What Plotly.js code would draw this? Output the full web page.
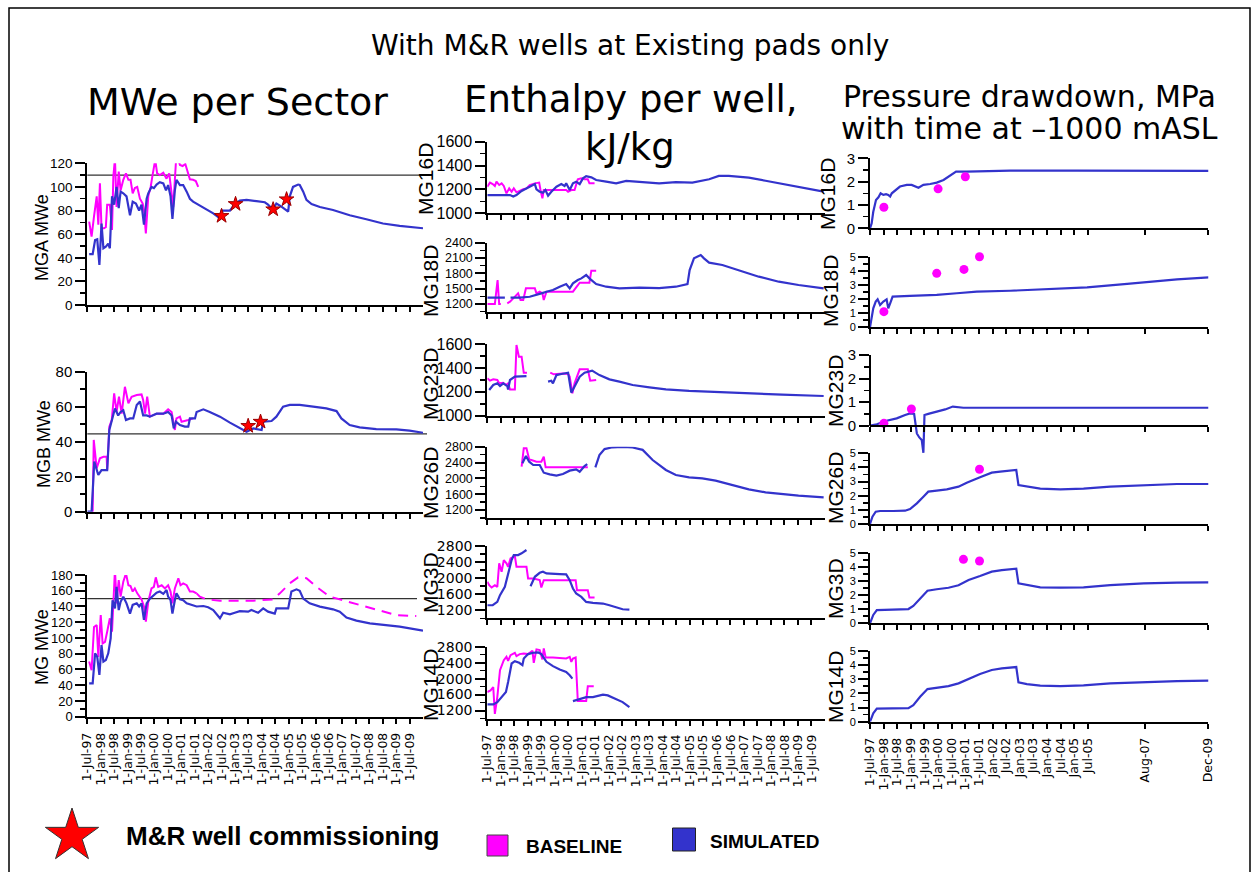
<!DOCTYPE html>
<html><head><meta charset="utf-8">
<script src="https://cdn.plot.ly/plotly-3.0.1.min.js"></script>
<style>html,body{margin:0;padding:0;background:#fff}#chart{width:1257px;height:872px}</style>
</head><body><div id="chart"></div>
<script>
// ---------- tick labels ----------
const halfYearTicks = [1997.5,1998,1998.5,1999,1999.5,2000,2000.5,2001,2001.5,2002,2002.5,2003,2003.5,2004,2004.5,2005,2005.5,2006,2006.5,2007,2007.5,2008,2008.5,2009,2009.5];
const halfYearLabels = ['1-Jul-97','1-Jan-98','1-Jul-98','1-Jan-99','1-Jul-99','1-Jan-00','1-Jul-00','1-Jan-01','1-Jul-01','1-Jan-02','1-Jul-02','1-Jan-03','1-Jul-03','1-Jan-04','1-Jul-04','1-Jan-05','1-Jul-05','1-Jan-06','1-Jul-06','1-Jan-07','1-Jul-07','1-Jan-08','1-Jul-08','1-Jan-09','1-Jul-09'];
const pressureTicks = [1997.5,1998,1998.5,1999,1999.5,2000,2000.5,2001,2001.5,2002,2002.5,2003,2003.5,2004,2004.5,2005,2005.5,2007.58,2009.92];
const pressureLabels = ['1-Jul-97','1-Jan-98','1-Jul-98','1-Jan-99','1-Jul-99','1-Jan-00','1-Jul-00','1-Jan-01','1-Jul-01','Jan-02','Jul-02','Jan-03','Jul-03','Jan-04','Jul-04','Jan-05','Jul-05','Aug-07','Dec-09'];

// ---------- MWe per sector ----------
const mgaSimYear = [1997.57,1997.70,1997.79,1997.87,1997.95,1998.03,1998.10,1998.19,1998.28,1998.34,1998.42,1998.50,1998.59,1998.67,1998.74,1998.84,1998.96,1999.09,1999.19,1999.31,1999.43,1999.52,1999.61,1999.71,1999.77,1999.89,1999.98,2000.08,2000.20,2000.33,2000.43,2000.51,2000.60,2000.67,2000.76,2000.82,2000.95,2001.07,2001.20,2001.32,2001.44,2001.63,2001.82,2002.00,2002.19,2002.44,2002.50,2002.81,2002.99,2003.18,2003.43,2003.80,2004.11,2004.23,2004.36,2004.48,2004.54,2004.73,2004.92,2004.98,2005.04,2005.16,2005.35,2005.41,2005.54,2005.66,2005.85,2006.16,2006.65,2007.27,2007.89,2008.51,2009.13,2010.0];
const mgaSimMWe = [43,43,55,55.6,34,69,48,49.4,52,48,92,85,100,82,96,94.6,92,76,87.5,86,80,85,68,90,94.6,100,99,102,104,103,97,101.6,92,73,97,106,101.6,101.6,96,90,87.5,85,83,80,77.6,73.4,80,80,85,88.4,89,88,87,85,82,83.6,86,83.3,80.5,79,92,100,102,101.6,96,89,85.5,83,80.5,76,72.6,69,67,65];
const mgaBaseYear = [1997.57,1997.66,1997.75,1997.85,1997.91,1997.97,1998.03,1998.12,1998.19,1998.24,1998.34,1998.42,1998.47,1998.53,1998.59,1998.67,1998.74,1998.84,1998.94,1999.03,1999.11,1999.19,1999.27,1999.36,1999.46,1999.56,1999.61,1999.68,1999.77,1999.86,1999.93,2000.03,2000.10,2000.20,2000.33,2000.45,2000.55,2000.64,2000.70,2000.80,2000.89,2000.95,2001.05,2001.15,2001.26,2001.32,2001.44,2001.54,2001.63];
const mgaBaseMWe = [70.6,58,75,92,68,103,65,65,66,85,85,63.5,108.7,124,83,113,97,106,111.5,106,106,94.6,99,100,90,86,80.5,60.7,92,100,110,123,111.5,110,112,107,111.5,93,83,121,123,118.6,117.7,119.4,111.5,106.4,106,105,100];
const mgaStarYear = [2002.50,2003.02,2004.42,2004.92];
const mgaStarMWe = [75.4,85.5,81,89.5];
const mgaTarget = 110;

const mgbSimYear = [1997.50,1997.66,1997.76,1997.91,1998.03,1998.16,1998.24,1998.32,1998.41,1998.53,1998.65,1998.74,1998.84,1998.94,1999.09,1999.21,1999.34,1999.46,1999.58,1999.71,1999.83,2000.08,2000.33,2000.51,2000.64,2000.72,2000.80,2000.95,2001.13,2001.26,2001.32,2001.51,2001.57,2001.82,2002.06,2002.44,2002.81,2003.18,2003.43,2003.68,2003.99,2004.05,2004.36,2004.54,2004.79,2005.04,2005.41,2005.91,2006.40,2006.78,2006.96,2007.27,2007.64,2008.26,2009.01,2009.50,2010.00];
const mgbSimMWe = [0,0,28.6,21,23.8,23.8,23.8,46.7,51.4,59,55,57,58,52.4,53.3,53.3,61,62.9,55,55,54.3,56,56,57,55,47.6,51.4,49.5,48.6,48.6,53.3,53.3,57,58.5,57,54.3,50.9,47.6,45.7,47.6,46.7,51.4,51.8,54.3,60,61,61,60,59,57.5,53.3,49.5,48.2,47.2,47,46.3,45.1];
const mgbBaseYear = [1997.70,1997.74,1997.85,1997.97,1998.10,1998.22,1998.24,1998.32,1998.41,1998.50,1998.59,1998.68,1998.78,1998.90,1999.03,1999.15,1999.34,1999.52,1999.58,1999.65,1999.73,1999.83,2000.08,2000.33,2000.51,2000.64,2000.76,2000.82,2000.95,2001.01,2001.26,2001.44];
const mgbBaseMWe = [0,41,24.8,30.5,31.4,31.4,23.8,48.6,52.4,67.6,57,65.7,56,71.4,62,65.7,66.7,67,63.8,56,65.7,54.3,56,56,58.5,57,46.7,53.3,54.3,51.4,52.4,53.3];
const mgbStarYear = [2003.49,2003.95];
const mgbStarMWe = [49,51.4];
const mgbTarget = 44.5;

const mgSimYear = [1997.57,1997.70,1997.79,1997.87,1997.95,1998.03,1998.10,1998.19,1998.28,1998.37,1998.44,1998.53,1998.59,1998.67,1998.74,1998.84,1998.96,1999.09,1999.19,1999.34,1999.43,1999.52,1999.61,1999.71,1999.83,1999.96,2000.08,2000.20,2000.33,2000.45,2000.51,2000.60,2000.67,2000.76,2000.82,2000.95,2001.07,2001.20,2001.38,2001.57,2001.82,2002.00,2002.19,2002.44,2002.56,2002.81,2002.99,2003.18,2003.49,2003.61,2003.86,2004.05,2004.23,2004.48,2004.54,2004.98,2005.10,2005.29,2005.41,2005.54,2005.78,2006.16,2006.65,2006.90,2007.15,2007.52,2008.02,2008.51,2009.13,2010.00];
const mgSimMWe = [42.4,42.4,80.5,76,53,91,70,72,80.5,99.5,148,137.6,165,135.5,146,152.5,144,131,142,144,140,144,123,144,150,154.6,157.6,159,156,161,152.5,148,131,148,156.7,149,148,144,142,140,140.6,139,135.5,125,132,130,132,134,133.4,135.5,132,137.6,133.4,131,137.6,137.6,159,161.8,160,150,144,139.8,136.4,133.4,126,122,118.6,116.5,114.4,109.3];
const mgBaseYear = [1997.57,1997.66,1997.75,1997.85,1997.91,1998.00,1998.07,1998.16,1998.24,1998.34,1998.42,1998.47,1998.53,1998.59,1998.67,1998.74,1998.84,1998.94,1999.03,1999.11,1999.19,1999.27,1999.36,1999.52,1999.61,1999.68,1999.77,1999.89,1999.98,2000.05,2000.14,2000.27,2000.39,2000.51,2000.60,2000.67,2000.76,2000.89,2000.97,2001.07,2001.20,2001.32,2001.44,2001.57];
const mgBaseMWe = [70,59,114,116.5,76,129,93,95,108,125,108,148,187,144,173.6,152.5,171.5,182,167,166,159,163,156.7,149,140,120.7,146,163,165,177,165,167,163,167,159,144,163,175.8,167,169.4,167,159,159,156.7];
const mgForecastYear = [2001.57,2001.69,2001.94,2002.44,2002.93,2003.68,2004.42,2004.67,2005.04,2005.35,2005.66,2006.03,2006.53,2006.90,2007.40,2007.89,2008.39,2009.01,2009.50,2009.75];
const mgForecastMWe = [156.7,152.5,149,147.4,147.4,147.4,149,156.7,169.4,177,176,165,152.5,149,144,139.8,135.5,129,128,128];
const mgTarget = 150;

// ---------- Enthalpy per well (kJ/kg) ----------
const h16SimYear = [1997.50,1998.34,1998.46,1998.58,1998.77,1998.95,1999.13,1999.26,1999.32,1999.44,1999.56,1999.65,1999.75,1999.87,2000.06,2000.24,2000.36,2000.42,2000.55,2000.67,2000.79,2000.92,2001.04,2001.16,2001.35,2001.53,2001.90,2002.27,2002.64,2003.13,2003.86,2004.48,2005.09,2005.71,2006.07,2006.44,2007.18,2007.80,2008.78,2009.95];
const h16Sim = [1153,1153,1140,1153,1187,1209,1229,1245,1201,1181,1173,1195,1148,1181,1223,1245,1229,1251,1195,1251,1265,1245,1293,1312,1301,1279,1265,1251,1271,1265,1251,1262,1257,1285,1313,1313,1299,1273,1229,1181];
const h16BaseYear = [1997.50,1997.60,1997.70,1997.78,1997.84,1997.94,1998.03,1998.11,1998.21,1998.31,1998.40,1998.48,1998.58,1998.70,1998.83,1998.95,1999.07,1999.26,1999.42,1999.47,1999.54,1999.59,1999.75,1999.93,2000.18,2000.42,2000.49,2000.61,2000.73,2000.79,2000.85,2000.98,2001.10,2001.22,2001.28,2001.47];
const h16Base = [1223,1257,1245,1229,1265,1237,1251,1229,1167,1209,1181,1209,1176,1190,1201,1209,1237,1251,1257,1195,1126,1195,1195,1195,1195,1195,1181,1195,1195,1237,1285,1293,1285,1285,1251,1251];

const h18SimYear = [1997.50,1998.15,null,1998.36,1998.70,1999.07,1999.32,1999.50,1999.69,1999.93,2000.18,2000.42,2000.55,2000.67,2000.85,2000.98,2001.16,2001.28,2001.53,2001.90,2002.39,2003.13,2003.86,2004.48,2004.91,2004.99,2005.15,2005.40,2005.52,2005.71,2006.20,2006.81,2007.55,2008.29,2009.02,2009.95];
const h18Sim = [1324,1324,null,1324,1324,1343,1376,1409,1441,1474,1539,1591,1507,1604,1670,1702,1767,1702,1591,1539,1507,1520,1513,1539,1591,1865,2094,2159,2094,2009,1963,1865,1735,1637,1572,1507];
const h18BaseYear = [1997.50,1997.78,1997.88,1997.94,1998.00,null,1998.24,1998.34,1998.46,1998.64,1998.73,1998.83,1998.93,1999.26,1999.32,1999.44,1999.54,1999.59,1999.69,1999.93,2000.42,2000.67,2000.92,2001.28,2001.35,2001.53];
const h18Base = [1200,1200,1670,1200,1200,null,1213,1246,1311,1409,1278,1278,1507,1507,1409,1441,1409,1278,1441,1441,1441,1441,1617,1617,1852,1852];

const h23SimYear = [1997.57,1997.72,1997.87,1997.97,1998.09,1998.24,1998.27,1998.34,1998.52,1998.70,1998.95,null,1999.75,1999.87,1999.93,2000.06,2000.24,2000.49,2000.61,2000.73,2000.92,2001.10,2001.22,2001.38,2001.65,2002.02,2002.39,2002.88,2003.50,2004.11,2004.97,2005.95,2007.18,2008.41,2009.95];
const h23Sim = [1215,1257,1271,1248,1271,1248,1220,1299,1327,1327,1332,null,1285,1293,1271,1340,1349,1360,1193,1243,1327,1360,1368,1377,1340,1304,1285,1257,1237,1220,1207,1198,1184,1176,1165];
const h23BaseYear = [1997.50,1997.60,1997.72,1997.87,1997.94,1998.09,1998.19,1998.27,1998.34,1998.52,1998.58,1998.67,1998.77,1998.85,1998.97,null,1999.83,1999.96,2000.30,2000.49,2000.55,2000.65,2000.73,2000.92,2001.22,2001.31,2001.53];
const h23Base = [1313,1293,1304,1299,1271,1276,1257,1271,1220,1220,1592,1494,1494,1360,1360,null,1360,1346,1354,1349,1327,1187,1271,1388,1388,1293,1299];

const h26SimYear = [1998.80,1998.93,1999.05,1999.20,1999.44,1999.59,1999.81,2000.06,2000.30,2000.55,2000.79,2000.92,2001.10,2001.20,null,2001.50,2001.65,2001.84,2002.14,2002.51,2002.88,2003.25,2003.62,2004.11,2004.48,2004.97,2005.46,2005.95,2006.57,2007.18,2007.80,2008.41,2009.02,2009.95];
const h26Sim = [2379,2564,2421,2337,2337,2143,2101,2067,2109,2194,2227,2168,2312,2362,null,2278,2589,2740,2785,2795,2780,2720,2463,2211,2084,2025,2000,1941,1832,1722,1646,1596,1562,1520];
const h26BaseYear = [1998.77,1998.85,1998.95,1999.05,1999.13,1999.32,1999.50,1999.59,1999.66,1999.75,2000.42,2001.22];
const h26Base = [2295,2758,2758,2480,2463,2421,2421,2547,2278,2278,2278,2278];

const h3SimYear = [1997.50,1997.70,1997.87,1997.97,1998.15,1998.27,1998.40,1998.48,1998.64,1998.77,1998.95,null,1999.10,1999.26,1999.44,1999.56,1999.69,1999.93,2000.18,2000.42,2000.55,2000.67,2000.79,2000.98,2001.16,2001.41,2001.78,2002.02,2002.27,2002.51,2002.76];
const h3Sim = [1325,1325,1408,1575,1783,2117,2450,2575,2575,2617,2700,null,1800,2033,2133,2158,2117,2117,2100,2092,1950,1742,1617,1533,1408,1383,1367,1325,1267,1225,1217];
const h3BaseYear = [1997.50,1997.57,1997.66,1997.78,1997.87,1997.94,1998.03,1998.11,1998.21,1998.27,1998.36,1998.46,1998.52,1998.58,1998.95,1999.01,1999.20,1999.44,1999.50,1999.59,2000.42,2000.77,2000.82,2001.22,2001.28,2001.47];
const h3Base = [1908,1825,1767,1825,1783,2367,2158,2450,2367,2283,2492,2517,2550,2283,2283,1992,1992,1950,1767,1950,1950,1950,1700,1700,1517,1517];

const h14SimYear = [1997.50,1997.72,1997.87,1998.03,1998.19,1998.27,1998.40,1998.52,1998.68,1998.80,1998.85,1999.01,1999.20,1999.38,1999.50,1999.69,1999.93,2000.18,2000.42,2000.55,2000.65,null,2000.67,2000.92,2001.16,2001.41,2001.65,2001.78,2001.96,2002.27,2002.51,2002.76];
const h14Sim = [1352,1352,1411,1537,1663,1916,2379,2438,2396,2337,2505,2615,2648,2657,2615,2421,2312,2227,2168,2084,2000,null,1436,1495,1537,1537,1579,1596,1579,1495,1411,1284];
const h14BaseYear = [1997.50,1997.62,1997.72,1997.78,1997.87,1997.97,1998.11,1998.21,1998.27,1998.36,1998.52,1998.58,1998.70,1998.85,1999.01,1999.17,1999.22,1999.32,1999.44,1999.54,1999.59,1999.66,1999.93,2000.42,2000.55,2000.61,2000.67,2000.77,2000.85,2001.16,2001.22,2001.44];
const h14Base = [1663,1705,1789,1116,1537,2211,2463,2547,2446,2589,2648,2564,2615,2632,2615,2699,2396,2733,2716,2480,2758,2530,2530,2505,2547,2421,2505,2530,1436,1436,1806,1806];

// ---------- Pressure drawdown (MPa) ----------
const p16SimYear = [1997.50,1997.56,1997.62,1997.72,1997.81,1997.89,1997.99,1998.09,1998.17,1998.24,1998.30,1998.46,1998.60,1998.85,1999.03,1999.28,1999.46,1999.71,1999.95,2000.20,2000.38,2000.50,2000.66,2001.05,2001.79,2002.65,2005.10,2007.55,2009.94];
const p16Sim = [0,0.21,0.71,1.21,1.33,1.5,1.43,1.46,1.43,1.36,1.5,1.67,1.79,1.86,1.86,1.74,1.86,1.9,1.96,2.07,2.21,2.31,2.43,2.43,2.46,2.47,2.47,2.47,2.46];
const p16ObsYear = [1998.01,2000.00,2001.00];
const p16Obs = [0.9,1.69,2.21];

const p18SimYear = [1997.50,1997.56,1997.62,1997.71,1997.78,1997.87,1997.99,1998.11,1998.17,1998.24,1998.33,1998.97,1999.95,2000.69,2001.42,2002.65,2003.87,2005.47,2006.94,2008.77,2009.94];
const p18Sim = [0,0.75,1.34,1.82,1.98,1.58,1.82,1.98,1.34,1.7,2.17,2.22,2.29,2.41,2.52,2.59,2.69,2.83,3.07,3.4,3.54];
const p18ObsYear = [1998.01,1999.95,2000.95,2001.52];
const p18Obs = [1.11,3.82,4.1,5.0];

const p23SimYear = [1997.50,1997.75,1998.11,1998.48,1998.79,1998.97,1999.12,1999.17,1999.22,1999.31,1999.40,1999.46,1999.50,1999.64,1999.95,2000.26,2000.54,2000.93,2002.65,2009.94];
const p23Sim = [0,0.06,0.21,0.31,0.45,0.52,0.5,-0.04,-0.33,-0.5,-0.61,-1.15,0.45,0.5,0.59,0.69,0.81,0.76,0.76,0.76];
const p23ObsYear = [1998.01,1999.02];
const p23Obs = [0.1,0.71];

const p26SimYear = [1997.50,1997.59,1997.71,1997.87,1998.36,1998.79,1998.97,1999.22,1999.46,1999.64,1999.95,2000.32,2000.75,2001.05,2001.54,2001.97,2002.28,2002.87,2002.95,2003.26,2003.75,2004.49,2005.34,2006.32,2007.55,2008.77,2009.94];
const p26Sim = [0,0.52,0.87,0.92,0.92,0.94,1.06,1.46,1.93,2.29,2.36,2.45,2.64,2.92,3.3,3.63,3.7,3.82,2.76,2.64,2.5,2.45,2.5,2.64,2.76,2.83,2.83];
const p26ObsYear = [2001.52];
const p26Obs = [3.87];

const p3SimYear = [1997.50,1997.62,1997.75,1998.36,1998.91,1999.09,1999.34,1999.61,1999.95,2000.38,2000.75,2001.12,2001.54,2001.97,2002.34,2002.87,2002.95,2003.26,2003.75,2004.49,2005.34,2006.32,2007.55,2008.77,2009.94];
const p3Sim = [0,0.59,0.94,0.99,1.01,1.23,1.77,2.31,2.41,2.52,2.69,3.07,3.35,3.66,3.77,3.87,2.83,2.71,2.55,2.52,2.55,2.71,2.83,2.88,2.9];
const p3ObsYear = [2000.93,2001.52];
const p3Obs = [4.53,4.41];

const p14SimYear = [1997.50,1997.62,1997.75,1998.36,1998.91,1999.09,1999.34,1999.61,1999.95,2000.38,2000.75,2001.12,2001.54,2001.97,2002.34,2002.87,2002.95,2003.26,2003.75,2004.49,2005.34,2006.32,2007.55,2008.77,2009.94];
const p14Sim = [0,0.59,0.92,0.96,0.96,1.17,1.76,2.3,2.37,2.51,2.7,3.0,3.36,3.64,3.76,3.85,2.77,2.65,2.54,2.51,2.56,2.7,2.79,2.86,2.89];

// ---------- drawing ----------
const W = 1257, H = 872;
const fx = p => p / W, fy = p => 1 - p / H;
const BLUE = '#3333CC', MAG = '#FF00FF';
const ARIAL = 'Liberation Sans, Arial, sans-serif';
const DV = 'DejaVu Sans, sans-serif';

const sim = (x, y) => ({type:'scatter', mode:'lines', x, y, line:{color:BLUE, width:2.2}, connectgaps:false, hoverinfo:'skip'});
const base = (x, y, dash) => ({type:'scatter', mode:'lines', x, y, line:{color:MAG, width:2, dash: dash || 'solid'}, connectgaps:false, hoverinfo:'skip'});
const stars = (x, y) => ({type:'scatter', mode:'markers', x, y, cliponaxis:false, marker:{symbol:'star', size:11, color:'#FF0000', line:{color:'#990000', width:1}}, hoverinfo:'skip'});
const dots = (x, y) => ({type:'scatter', mode:'markers', x, y, cliponaxis:false, marker:{symbol:'circle', size:9, color:MAG}, hoverinfo:'skip'});

const cols = {
  L:{x0:87.3, x1:423, range:[1997.5,2010.0], tv:halfYearTicks, tt:halfYearLabels},
  M:{x0:487.3, x1:825, range:[1997.5,2010.0], tv:halfYearTicks, tt:halfYearLabels},
  R:{x0:870, x1:1208.3, range:[1997.5,2009.92], tv:pressureTicks, tt:pressureLabels}
};

const t03 = [0,1,2,3], m03 = [0.5,1.5,2.5];
const t05 = [0,1,2,3,4,5], m05 = [0.5,1.5,2.5,3.5,4.5];
const tH = [1200,1600,2000,2400,2800], mH = [1000,1400,1800,2200,2600];

const panels = [
  {col:'L', top:163.3, bot:305, yr:[0,120], ytv:[0,20,40,60,80,100,120], ymv:[10,30,50,70,90,110], tf:{family:ARIAL,size:13.5}, title:'MGA MWe', tx:41.5, ty:237.5, ts:18, hline:mgaTarget, hEnd:430,
   traces:[base(mgaBaseYear,mgaBaseMWe), sim(mgaSimYear,mgaSimMWe), stars(mgaStarYear,mgaStarMWe)]},
  {col:'L', top:371.7, bot:511.7, yr:[0,80], ytv:[0,20,40,60,80], ymv:[10,30,50,70], tf:{family:ARIAL,size:15}, title:'MGB MWe', tx:44, ty:444, ts:18, hline:mgbTarget, hEnd:427,
   traces:[base(mgbBaseYear,mgbBaseMWe), sim(mgbSimYear,mgbSimMWe), stars(mgbStarYear,mgbStarMWe)]},
  {col:'L', top:575, bot:716.7, yr:[0,180], ytv:[0,20,40,60,80,100,120,140,160,180], ymv:[10,30,50,70,90,110,130,150,170], tf:{family:ARIAL,size:13}, title:'MG MWe', tx:42, ty:647, ts:18, hline:mgTarget, hEnd:417, labels:true,
   traces:[base(mgBaseYear,mgBaseMWe), base(mgForecastYear,mgForecastMWe,'10px,7px'), sim(mgSimYear,mgSimMWe)]},

  {col:'M', top:141.7, bot:213.3, yr:[1000,1600], ytv:[1000,1200,1400,1600], ymv:[1100,1300,1500], tf:{family:ARIAL,size:16}, title:'MG16D', tx:425, ty:179, ts:21,
   traces:[base(h16BaseYear,h16Base), sim(h16SimYear,h16Sim)]},
  {col:'M', top:242.7, bot:311.7, yr:[1050,2400], ytv:[1200,1500,1800,2100,2400], ymv:[1050,1350,1650,1950,2250], tf:{family:ARIAL,size:12.5}, title:'MG18D', tx:430, ty:281, ts:21,
   traces:[base(h18BaseYear,h18Base), sim(h18SimYear,h18Sim)]},
  {col:'M', top:344, bot:415.7, yr:[1000,1600], ytv:[1000,1200,1400,1600], ymv:[1100,1300,1500], tf:{family:ARIAL,size:16}, title:'MG23D', tx:430, ty:384, ts:21,
   traces:[base(h23BaseYear,h23Base), sim(h23SimYear,h23Sim)]},
  {col:'M', top:446.7, bot:517.9, yr:[1000,2800], ytv:tH, ymv:mH, tf:{family:ARIAL,size:12.5}, title:'MG26D', tx:430, ty:483, ts:21,
   traces:[base(h26BaseYear,h26Base), sim(h26SimYear,h26Sim)]},
  {col:'M', top:546, bot:618.3, yr:[1000,2800], ytv:tH, ymv:mH, tf:{family:DV,size:14}, title:'MG3D', tx:430, ty:583, ts:21,
   traces:[base(h3BaseYear,h3Base), sim(h3SimYear,h3Sim)]},
  {col:'M', top:646.7, bot:718.5, yr:[1000,2800], ytv:tH, ymv:mH, tf:{family:DV,size:14}, title:'MG14D', tx:430, ty:685, ts:21, labels:true,
   traces:[base(h14BaseYear,h14Base), sim(h14SimYear,h14Sim)]},

  {col:'R', top:158.3, bot:228.3, yr:[0,3], ytv:t03, ymv:m03, tf:{family:ARIAL,size:15}, title:'MG16D', tx:828, ty:194, ts:21,
   traces:[sim(p16SimYear,p16Sim), dots(p16ObsYear,p16Obs)]},
  {col:'R', top:256.7, bot:327.3, yr:[0,5], ytv:t05, ymv:m05, tf:{family:ARIAL,size:11}, title:'MG18D', tx:830, ty:291, ts:21,
   traces:[sim(p18SimYear,p18Sim), dots(p18ObsYear,p18Obs)]},
  {col:'R', top:355, bot:456.3, yr:[-1.3,3], ytv:t03, ymv:m03, tf:{family:ARIAL,size:15}, title:'MG23D', tx:835, ty:391, ts:21, xpos:425.7, yline:[0,3],
   traces:[sim(p23SimYear,p23Sim), dots(p23ObsYear,p23Obs)]},
  {col:'R', top:453.3, bot:524, yr:[0,5], ytv:t05, ymv:m05, tf:{family:ARIAL,size:11}, title:'MG26D', tx:835, ty:488, ts:21,
   traces:[sim(p26SimYear,p26Sim), dots(p26ObsYear,p26Obs)]},
  {col:'R', top:552.7, bot:623.3, yr:[0,5], ytv:t05, ymv:m05, tf:{family:ARIAL,size:11}, title:'MG3D', tx:835, ty:589, ts:21,
   traces:[sim(p3SimYear,p3Sim), dots(p3ObsYear,p3Obs)]},
  {col:'R', top:650.7, bot:721.7, yr:[0,5], ytv:t05, ymv:m05, tf:{family:ARIAL,size:11}, title:'MG14D', tx:835, ty:687, ts:21, labels:true,
   traces:[sim(p14SimYear,p14Sim)]}
];

const data = [];
const layout = {
  width:W, height:H, margin:{l:0,r:0,t:0,b:0}, showlegend:false,
  paper_bgcolor:'#fff', plot_bgcolor:'rgba(0,0,0,0)', hovermode:false,
  annotations:[], shapes:[]
};
const N = panels.length;

panels.forEach((p, k) => {
  const i = k + 1, s = i === 1 ? '' : String(i);
  const c = cols[p.col];
  const xanchor = p.xpos ? 'free' : 'y' + s;
  const xa = {
    domain:[fx(c.x0), fx(c.x1)], range:c.range, anchor:xanchor,
    tickmode:'array', tickvals:c.tv, ticktext:c.tt,
    ticks:'outside', ticklen:5, tickwidth:2, tickcolor:'#000',
    showticklabels:!!p.labels, tickangle:-90, ticklabelstandoff:4,
    tickfont:{family:DV, size:12.5, color:'#000'},
    showline:true, linecolor:'#000', linewidth:2, showgrid:false, zeroline:false, fixedrange:true
  };
  if (p.xpos) xa.position = fy(p.xpos);
  layout['xaxis' + s] = xa;
  // second set of x ticks pointing upward, so the ticks cross the axis line
  const xo = {
    overlaying:'x' + s, anchor:xanchor, range:c.range,
    tickmode:'array', tickvals:c.tv, ticks:'inside', ticklen:5, tickwidth:2, tickcolor:'#000',
    showticklabels:false, showline:false, showgrid:false, zeroline:false, fixedrange:true
  };
  if (p.xpos) xo.position = fy(p.xpos);
  layout['xaxis' + (N + i)] = xo;

  layout['yaxis' + s] = {
    domain:[fy(p.bot), fy(p.top)], range:p.yr, anchor:'x' + s,
    tickmode:'array', tickvals:p.ytv, ticks:'outside', ticklen:10, tickwidth:2, tickcolor:'#000',
    minor:{tickmode:'array', tickvals:p.ymv, ticks:'outside', ticklen:5, tickwidth:1.5, tickcolor:'#000', showgrid:false},
    tickfont:Object.assign({color:'#000'}, p.tf),
    showline:!p.yline, linecolor:'#000', linewidth:2, showgrid:false, zeroline:false, fixedrange:true
  };
  if (p.yline) {
    layout.shapes.push({type:'line', xref:'paper', yref:'y' + s, x0:fx(c.x0), x1:fx(c.x0), y0:p.yline[0], y1:p.yline[1], line:{color:'#000', width:2}});
  }
  if (p.hline !== undefined) {
    layout.shapes.push({type:'line', xref:'paper', yref:'y' + s, x0:fx(c.x0), x1:fx(p.hEnd), y0:p.hline, y1:p.hline, line:{color:'#333', width:1.3}, layer:'below'});
  }
  p.traces.forEach(t => { t.xaxis = 'x' + s; t.yaxis = 'y' + s; data.push(t); });
  layout.annotations.push({text:p.title, xref:'paper', yref:'paper', x:fx(p.tx), y:fy(p.ty), xanchor:'center', yanchor:'middle', textangle:-90, showarrow:false,
    font:{family:ARIAL, size:p.ts, color:'#000'}});
});

// full-page layer for the key symbols
const kx = 'x' + (2 * N + 1), ky = 'y' + (2 * N + 1);
layout['xaxis' + (2 * N + 1)] = {domain:[0,1], range:[0,W], anchor:ky, visible:false, fixedrange:true};
layout['yaxis' + (2 * N + 1)] = {domain:[0,1], range:[H,0], anchor:kx, visible:false, fixedrange:true};
data.push({type:'scatter', mode:'markers', x:[72], y:[836], xaxis:kx, yaxis:ky, cliponaxis:false, hoverinfo:'skip',
  marker:{symbol:'star', size:40, color:'#FF0000', line:{color:'#333', width:1}}});
data.push({type:'scatter', mode:'markers', x:[497.5], y:[845.5], xaxis:kx, yaxis:ky, cliponaxis:false, hoverinfo:'skip',
  marker:{symbol:'square', size:21, color:MAG, line:{color:'#444', width:1}}});
data.push({type:'scatter', mode:'markers', x:[684], y:[839.5], xaxis:kx, yaxis:ky, cliponaxis:false, hoverinfo:'skip',
  marker:{symbol:'square', size:23, color:BLUE, line:{color:'#222', width:1}}});

const ann = (text, x, y, size, family, anchor) => ({text, xref:'paper', yref:'paper', x:fx(x), y:fy(y), xanchor:anchor || 'center', yanchor:'middle', showarrow:false, font:{family, size, color:'#000'}});
layout.annotations.push(
  ann('With M&R wells at Existing pads only', 630, 46, 28, DV),
  ann('MWe per Sector', 237, 102, 38, DV),
  ann('Enthalpy per well,', 630, 100, 37, DV),
  ann('kJ/kg', 630, 147, 37, DV),
  ann('Pressure drawdown, MPa', 1029, 96, 30, DV),
  ann('with time at \u20131000 mASL', 1029, 128, 30, DV),
  ann('<b>M&R well commissioning</b>', 124, 836, 26, ARIAL, 'left'),
  ann('<b>BASELINE</b>', 524, 846, 19, ARIAL, 'left'),
  ann('<b>SIMULATED</b>', 708, 841, 19, ARIAL, 'left')
);

// page frame
layout.shapes.push({type:'rect', xref:'paper', yref:'paper', x0:fx(9), x1:fx(1250), y0:-0.05, y1:fy(8), line:{color:'#000', width:1.5}, layer:'below'});

Plotly.newPlot('chart', data, layout, {displayModeBar:false, staticPlot:true});
</script></body></html>
